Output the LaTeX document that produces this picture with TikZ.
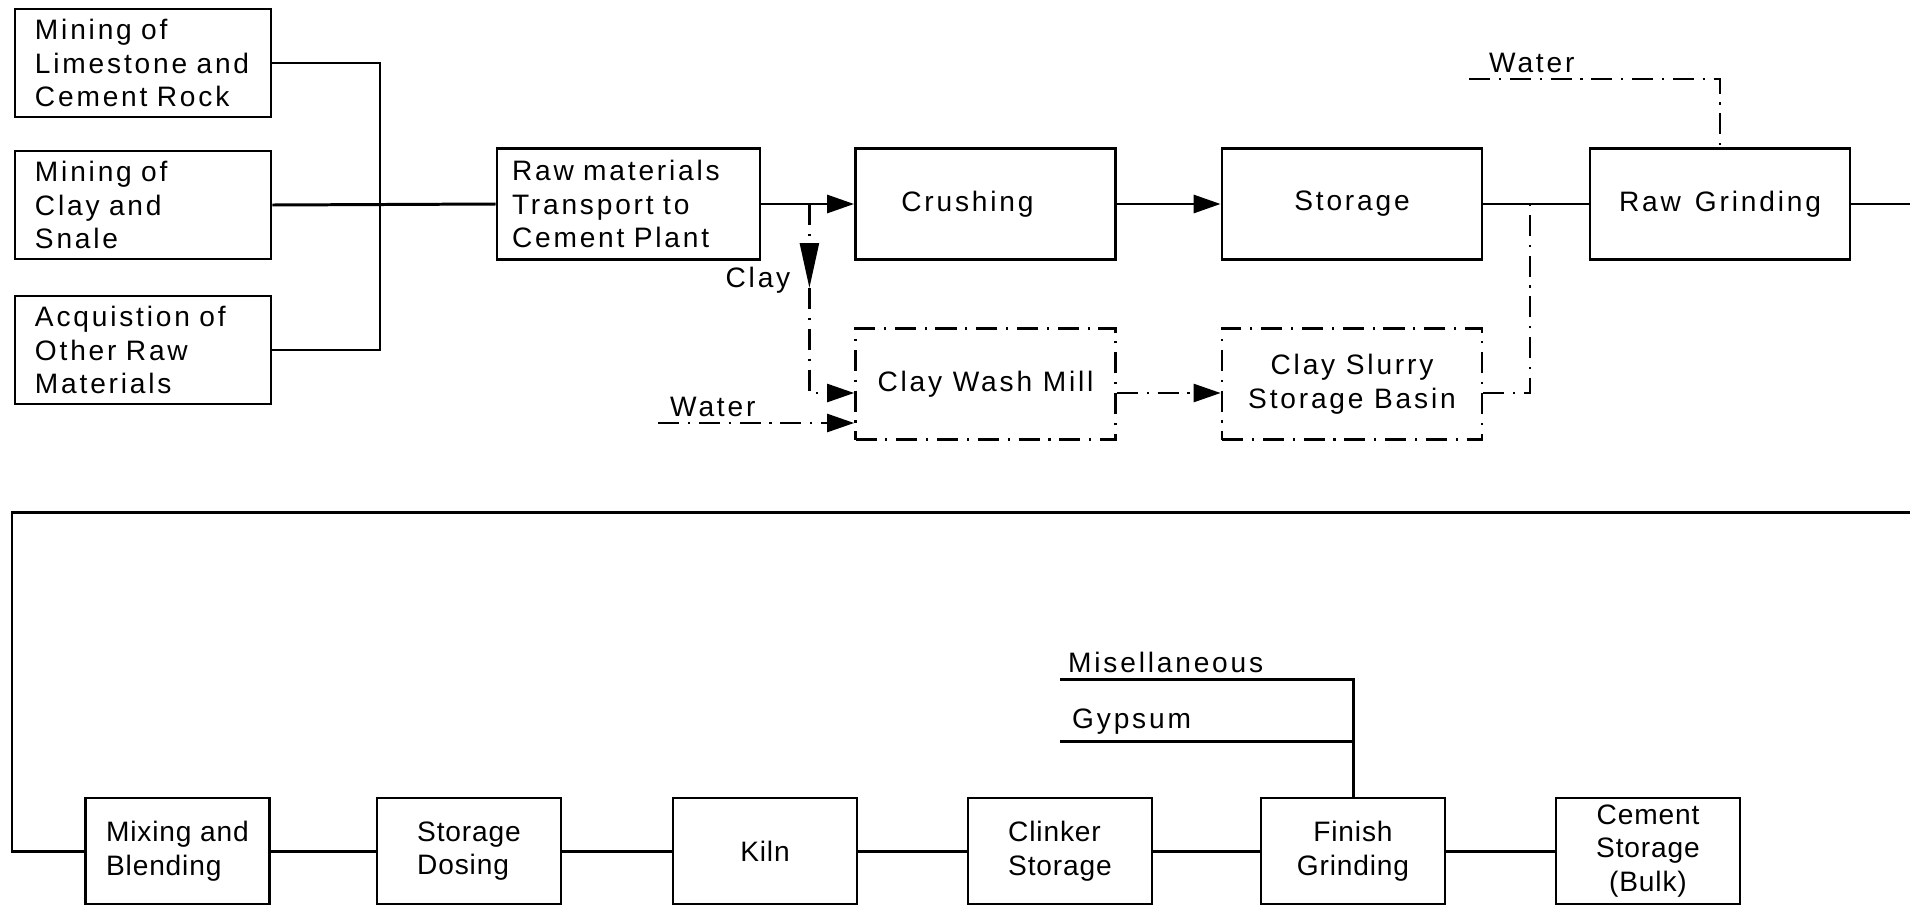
\documentclass[tikz,border=0pt]{standalone}
\usepackage{fontspec}
\newfontfamily\diafont[LetterSpace=10]{Liberation Sans}
\newfontfamily\diafontnarrow[LetterSpace=3]{Liberation Sans}
\usetikzlibrary{arrows.meta}

\begin{document}
\begin{tikzpicture}[
    box/.style={draw,line width=0.8pt,align=left,inner xsep=0.1cm,inner ysep=0.05cm,
      font=\diafont\fontsize{8}{9.6}\selectfont},
    leftbox/.style={box,inner xsep=0.2cm,text width=2.16cm,minimum height=1.08cm},
    mainbox/.style={box,minimum width=2.6cm,minimum height=1.11cm,align=center},
    washbox/.style={mainbox,dash pattern=on 6pt off 2.5pt on 0.6pt off 2.5pt,line width=0.75pt},
    lowbox/.style={box,minimum width=1.84cm,minimum height=1.06cm,
      font=\diafontnarrow\fontsize{8}{9.6}\selectfont},
    lbl/.style={inner sep=1pt,font=\diafont\fontsize{8}{9.6}\selectfont},
    link/.style={line width=0.85pt},
    chain/.style={line width=0.7pt,dash pattern=on 6pt off 2.5pt on 0.6pt off 2.5pt},
    >={Triangle[length=0.27cm,width=0.18cm]}]
  \useasboundingbox (0,0) rectangle (19.10,-9.06);

  % sources of raw material
  \node[leftbox] (limestone) at (1.43,-0.63) {Mining~of\\Limestone~and\\Cement~Rock};
  \node[leftbox] (clayshale) at (1.43,-2.05) {Mining~of\\Clay~and\\Snale};
  \node[leftbox] (otherraw) at (1.43,-3.50) {Acquistion~of\\Other~Raw\\Materials};
  \coordinate (bus) at (3.80,-2.05);
  \draw[link] (limestone.east) -| (bus);
  \draw[link] (otherraw.east) -| (bus);

  % top row
  \node[box,inner xsep=0.15cm,text width=2.33cm,minimum height=1.11cm] (transport) at (6.285,-2.04)
    {Raw~materials\\Transport~to\\Cement~Plant};
  \node[mainbox] (crushing) at (9.855,-2.04) {Crushing\hspace*{0.36cm}};
  \node[mainbox] (storage) at (13.52,-2.04) {Storage};
  \node[mainbox] (rawgrind) at (17.20,-2.04) {Raw\enspace Grinding};
  \coordinate (rightedge) at (19.10,0);
  \draw[link] (clayshale.east) -- (transport.west);
  \draw[link,->] (transport.east) -- (crushing.west);
  \draw[link,->] (crushing) -- (storage);
  \draw[link] (storage) -- (rawgrind);
  \draw[link] (rawgrind.east) -- (rawgrind.east -| rightedge);

  % water to raw grinding
  \coordinate (watertop) at (14.69,-0.79);
  \node[lbl,anchor=south west] (waterhigh) at (14.85,-0.77) {Water};
  \draw[chain] (watertop) -| (rawgrind.north);

  % clay washing branch
  \node[washbox] (washmill) at (9.855,-3.84) {Clay Wash Mill};
  \node[washbox] (slurry) at (13.52,-3.84) {Clay Slurry\\Storage Basin};
  \coordinate (clayrow) at (0,-3.93);
  \path (transport.east) ++(0.48,0) coordinate (clayfork);
  \node[lbl] (claylbl) at (7.58,-2.80) {Clay};
  \draw[chain,-{Triangle[length=0.45cm,width=0.19cm]}] (clayfork) -- ++(0,-0.84) coordinate (claytip);
  \draw[chain,->] (claytip) |- (washmill.west |- clayrow);
  \coordinate (waterin) at (6.58,-4.23);
  \node[lbl,anchor=south west] (waterlow) at (6.66,-4.21) {Water};
  \draw[chain,->] (waterin) -- (washmill.west |- waterin);
  \draw[chain,->] (washmill.east |- clayrow) -- (slurry.west |- clayrow);
  \coordinate (slurryjoin) at (15.30,-2.04);
  \draw[chain] (slurry.east |- clayrow) -| (slurryjoin);

  % bottom row
  \foreach \name/\x/\al/\txt in {mixing/1.775/left/{Mixing and\\Blending},
      dosing/4.69/left/{Storage\\Dosing}, kiln/7.65/center/Kiln,
      clinker/10.60/left/{Clinker\\Storage}, finish/13.53/center/{Finish\\Grinding},
      bulk/16.48/center/{Cement\\Storage\\(Bulk)}}
    \node[lowbox,align=\al] (\name) at (\x,-8.51) {\txt};
  \foreach \a/\b in {mixing/dosing,dosing/kiln,kiln/clinker,clinker/finish,finish/bulk}
    \draw[link] (\a) -- (\b);
  \coordinate (loopin) at (19.10,-5.12);
  \coordinate (loopturn) at (0.12,-5.12);
  \draw[link] (loopin) -- (loopturn) |- (mixing.west);

  % additives to finish grinding
  \coordinate (miscin) at (10.60,-6.79);
  \coordinate (gypsin) at (10.60,-7.41);
  \node[lbl,anchor=south west] (misc) at (10.64,-6.77) {Misellaneous};
  \node[lbl,anchor=south west] (gyps) at (10.68,-7.39) {Gypsum};
  \draw[link] (miscin) -| (finish.north);
  \draw[link] (gypsin) -- (gypsin -| finish.north);
\end{tikzpicture}
\end{document}
